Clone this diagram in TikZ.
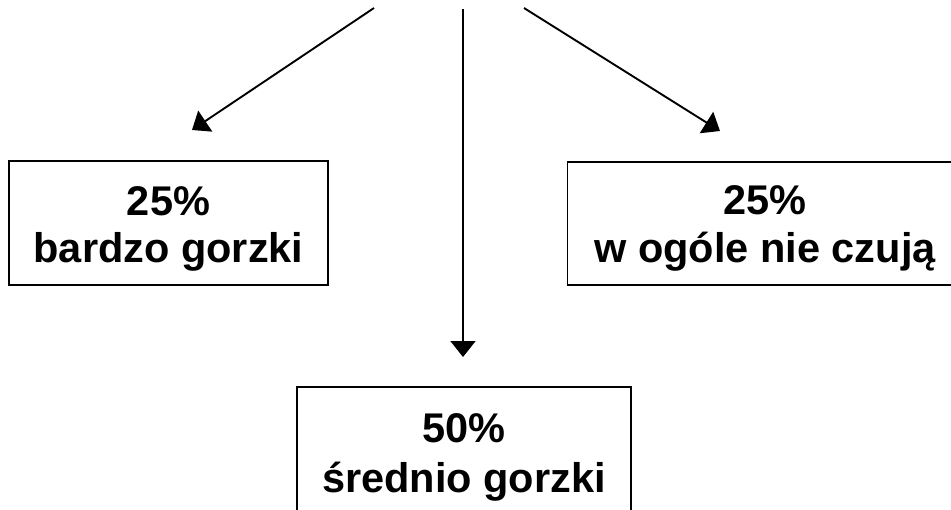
\documentclass[tikz,border=0pt]{standalone}
\usepackage{fontspec}
\setmainfont{Liberation Sans}
\usetikzlibrary{arrows.meta}
\tikzset{
  box/.style={draw=black, line width=1.5pt, rectangle, inner sep=0pt},
  lbl/.style={font=\bfseries\fontsize{41.5}{47.5}\selectfont, inner sep=0pt, anchor=base},
  arr/.style={draw=black, line width=1.9pt, -{Triangle[length=16pt,width=25pt]}}
}
\begin{document}
\begin{tikzpicture}[x=1pt,y=-1pt]
  \useasboundingbox (0,0) rectangle (951,509);

  % boxes
  \node[box, minimum width=319pt, minimum height=124pt] (left) at (168.5,223) {};
  \node[box, minimum width=395pt, minimum height=123pt] (right) at (765,223.5) {};
  \node[box, minimum width=334pt, minimum height=124pt] (mid) at (464,449) {};

  % labels
  \node[lbl] (leftA) at (168.5,215) {25\%};
  \node[lbl] (leftB) at (168.5,262.5) {bardzo gorzki};
  \node[lbl] (rightA) at (765,214.5) {25\%};
  \node[lbl] (rightB) at (765,262) {w ogóle nie czują};
  \node[lbl] (midA) at (464,442) {50\%};
  \node[lbl] (midB) at (464,492) {średnio gorzki};

  % arrow ends
  \coordinate (srcL) at (374,8);
  \coordinate (srcM) at (463,9);
  \coordinate (srcR) at (524,8);
  \coordinate (tipL) at (192,130);
  \coordinate (tipM) at (463,357);
  \coordinate (tipR) at (720,131);

  \draw[arr] (srcL) -- (tipL);
  \draw[arr] (srcM) -- (tipM);
  \draw[arr] (srcR) -- (tipR);
\end{tikzpicture}
\end{document}
